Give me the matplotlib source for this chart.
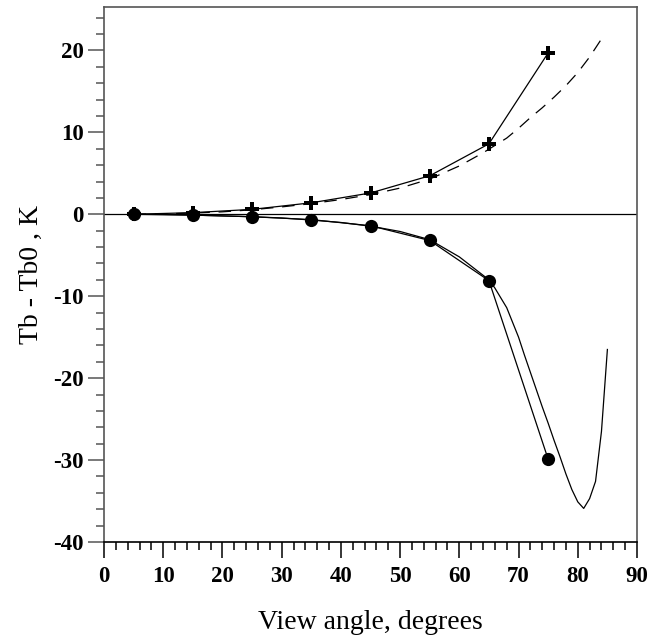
import matplotlib
matplotlib.use("Agg")
import matplotlib.pyplot as plt
from matplotlib.ticker import MultipleLocator

# measured points (every 10 degrees starting at 5)
angles = [5, 15, 25, 35, 45, 55, 65, 75]
tb_plus = [0.0, 0.2, 0.6, 1.4, 2.6, 4.7, 8.6, 19.7]
tb_dots = [0.0, -0.1, -0.3, -0.65, -1.4, -3.2, -8.1, -29.9]

# model curves
model_up_angle = [5, 10, 15, 20, 25, 30, 35, 40, 45, 50, 55, 60,
                  62, 64, 66, 68, 70, 72, 74, 76, 78, 80, 82, 84, 84.5]
model_up = [0.0, 0.05, 0.15, 0.3, 0.55, 0.9, 1.3, 1.8, 2.4, 3.2, 4.3, 5.9,
            6.7, 7.5, 8.4, 9.3, 10.5, 11.8, 13.0, 14.3, 15.7, 17.3, 19.2, 21.4, 21.9]

model_dn_angle = [5, 10, 15, 20, 25, 30, 35, 40, 45, 50, 55, 60,
                  65, 66, 67, 68, 69, 70, 71, 72, 73, 74, 75, 76, 77, 78,
                  79, 80, 81, 82, 83, 84, 85]
model_dn = [0.0, -0.02, -0.1, -0.2, -0.3, -0.45, -0.7, -1.0, -1.45, -2.1, -3.1, -5.2,
            -8.0, -9.0, -10.2, -11.4, -13.2, -15.0, -17.2, -19.3, -21.4, -23.5, -25.5,
            -27.6, -29.6, -31.7, -33.6, -35.1, -35.9, -34.7, -32.6, -26.5, -16.5]

plt.rcParams['font.family'] = ['Liberation Serif', 'DejaVu Serif']
plt.rcParams['axes.unicode_minus'] = False

fig = plt.figure(figsize=(6.51, 6.39), dpi=100)
ax = fig.add_axes([104 / 651, 1 - 542 / 639, (637 - 104) / 651, (542 - 7) / 639])

ax.axhline(0, color='black', lw=0.9, zorder=1)
ax.plot(model_up_angle, model_up, color='black', lw=0.9, dashes=(10, 7))
ax.plot(model_dn_angle, model_dn, color='black', lw=0.9)
ax.plot(angles, tb_plus, color='black', lw=0.9, marker='P', ms=10, mew=0)
ax.plot(angles, tb_dots, color='black', lw=0.9, marker='o', ms=9.5, mew=0)

ax.set_xlim(0, 90)
ax.set_ylim(-40, 25.3)
ax.xaxis.set_major_locator(MultipleLocator(10))
ax.xaxis.set_minor_locator(MultipleLocator(2))
ax.yaxis.set_major_locator(MultipleLocator(10))
ax.yaxis.set_minor_locator(MultipleLocator(2))

for s in ax.spines.values():
    s.set_color('#555555')
    s.set_linewidth(1.2)
ax.spines['bottom'].set_color('black')

ax.tick_params(which='both', direction='out', width=1.1, top=False, right=False)
ax.tick_params(axis='y', which='both', color='#555555')
ax.tick_params(axis='x', which='both', color='black')
ax.tick_params(which='major', length=11.5, pad=3, labelsize=16.5)
ax.tick_params(axis='x', which='major', pad=6)
ax.tick_params(which='minor', length=6)
for lbl in ax.get_xticklabels() + ax.get_yticklabels():
    lbl.set_fontweight('bold')

ax.set_xlabel('View angle, degrees', fontsize=20, labelpad=16)
ax.set_ylabel('Tb - Tb0 , K', fontsize=20, labelpad=7)

fig.savefig('out.png', dpi=100)
